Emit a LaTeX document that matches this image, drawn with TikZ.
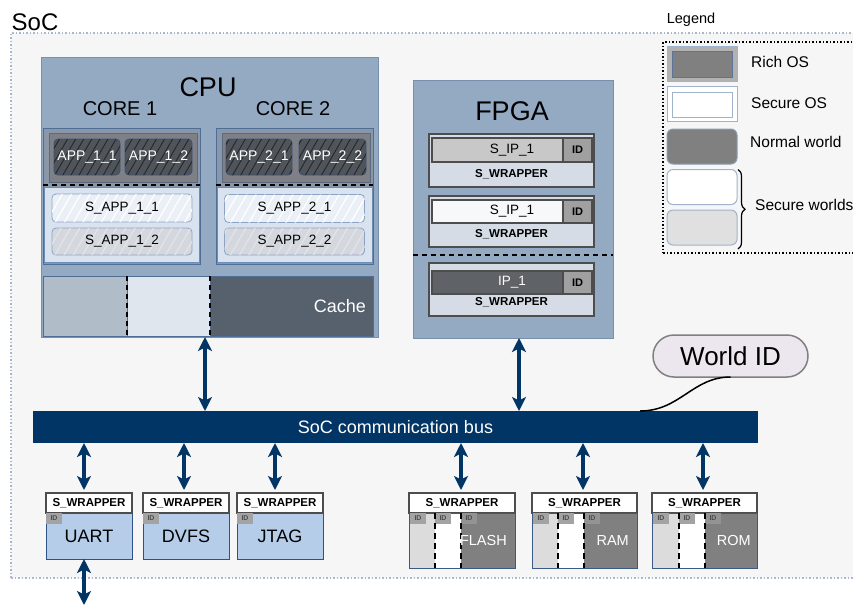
\documentclass[tikz,border=0pt]{standalone}
\usepackage{fontspec}
\setmainfont{Liberation Sans}
\usetikzlibrary{arrows.meta, patterns.meta, decorations.pathreplacing, positioning, calc}

\definecolor{socFill}{HTML}{F6F6F6}
\definecolor{socLine}{HTML}{A9B8CC}
\definecolor{cpuFill}{HTML}{94AAC2}
\definecolor{cpuLine}{HTML}{7890AD}
\definecolor{coreLine}{HTML}{4E6E96}
\definecolor{coreFill}{HTML}{8A97A8}
\definecolor{richFill}{HTML}{7E8086}
\definecolor{richLine}{HTML}{5A6A80}
\definecolor{appDark}{HTML}{50555C}
\definecolor{appLine}{HTML}{3C5479}
\definecolor{secFill}{HTML}{D9E3F0}
\definecolor{secLine}{HTML}{6E8DB5}
\definecolor{sappW}{HTML}{EBF0F7}
\definecolor{sappG}{HTML}{D4D7DD}
\definecolor{sappGL}{HTML}{E2E4E8}
\definecolor{sappLine}{HTML}{8CA3C4}
\definecolor{cacheLight}{HTML}{B0BCC7}
\definecolor{cacheWhite}{HTML}{DFE6EE}
\definecolor{cacheDark}{HTML}{57616E}
\definecolor{wrapFill}{HTML}{D5DCE6}
\definecolor{wrapLine}{HTML}{4D4D4D}
\definecolor{ipGray}{HTML}{C8C8C8}
\definecolor{ipWhite}{HTML}{F7F8FA}
\definecolor{ipDark}{HTML}{5F6266}
\definecolor{idGray}{HTML}{A0A0A0}
\definecolor{busBlue}{HTML}{013565}
\definecolor{periBlue}{HTML}{B6CDE9}
\definecolor{periLine}{HTML}{2E5283}
\definecolor{tagGray}{HTML}{A3A3A3}
\definecolor{memLight}{HTML}{DCDCDC}
\definecolor{memDark}{HTML}{808080}
\definecolor{memLine}{HTML}{3A5A85}
\definecolor{worldFill}{HTML}{ECE6EE}
\definecolor{worldLine}{HTML}{808080}
\definecolor{swLine}{HTML}{9FB3CC}
\definecolor{swInner}{HTML}{5A7599}

\tikzstyle{plainbox} = [rectangle, inner sep=0pt, outer sep=0pt]
\tikzstyle{socframe} = [plainbox, draw=socLine, fill=socFill, line width=1.5pt, dotted]
\tikzstyle{block} = [plainbox, draw=cpuLine, fill=cpuFill, line width=1pt]
\tikzstyle{bigtitle} = [inner sep=0pt, font=\fontsize{27}{30}\selectfont]
\tikzstyle{coretitle} = [inner sep=0pt, font=\fontsize{20}{22}\selectfont]
\tikzstyle{core} = [plainbox, draw=coreLine, fill=coreFill, line width=1pt]
\tikzstyle{rich} = [plainbox, draw=richLine, fill=richFill, line width=1pt]
\tikzstyle{app} = [plainbox, rounded corners=4pt, draw=appLine, fill=appDark, text=white, line width=0.8pt,
  font=\fontsize{14}{16}\selectfont, minimum height=36pt,
  postaction={pattern={Lines[angle=60, distance=7pt, line width=0.9pt]}, pattern color=black!85}]
\tikzstyle{secure} = [plainbox, draw=secLine, fill=secFill, line width=1pt]
\tikzstyle{sapp} = [plainbox, rounded corners=4pt, line width=0.8pt, draw=sappLine, minimum width=140pt,
  font=\fontsize{13.5}{16}\selectfont]
\tikzstyle{sappw} = [sapp, fill=sappW, postaction={pattern={Lines[angle=60, distance=8pt, line width=1.2pt]}, pattern color=white}]
\tikzstyle{sappg} = [sapp, fill=sappG, postaction={pattern={Lines[angle=60, distance=8pt, line width=1.2pt]}, pattern color=sappGL}]
\tikzstyle{worldsep} = [black, line width=2pt, dash pattern=on 5pt off 4pt]
\tikzstyle{cache} = [plainbox, draw=coreLine, line width=1pt, minimum height=60pt]
\tikzstyle{cachetext} = [inner sep=0pt, text=white, font=\fontsize{18}{20}\selectfont]
\tikzstyle{fpgawrap} = [plainbox, draw=wrapLine, fill=wrapFill, line width=1.5pt, minimum width=165pt]
\tikzstyle{ipbar} = [plainbox, draw=wrapLine, line width=1.2pt, minimum width=160pt, font=\fontsize{13.5}{16}\selectfont]
\tikzstyle{idcell} = [plainbox, draw=wrapLine, fill=idGray, line width=1.2pt, minimum width=29pt,
  font=\bfseries\fontsize{11}{13}\selectfont]
\tikzstyle{wraptext} = [inner sep=0pt, font=\bfseries\fontsize{11.5}{13}\selectfont]
\tikzstyle{bus} = [plainbox, fill=busBlue, text=white, font=\fontsize{18}{20}\selectfont]
\tikzstyle{busarrow} = [line width=3.5pt, draw=busBlue,
  {Stealth[length=14pt, width=14pt, inset=3.5pt]}-{Stealth[length=14pt, width=14pt, inset=3.5pt]}]
\tikzstyle{periwrap} = [plainbox, draw=wrapLine, fill=white, line width=2pt, minimum height=20pt,
  font=\bfseries\fontsize{11.5}{13}\selectfont]
\tikzstyle{peri} = [plainbox, draw=periLine, fill=periBlue, line width=1pt, minimum width=86pt, minimum height=46pt,
  font=\fontsize{18}{20}\selectfont]
\tikzstyle{idtag} = [plainbox, fill=tagGray, minimum width=16pt, minimum height=11pt,
  font=\bfseries\fontsize{7}{8}\selectfont, text=black!70]
\tikzstyle{memsec} = [plainbox, minimum height=55pt]
\tikzstyle{memline} = [draw=memLine, line width=1pt]
\tikzstyle{memsep} = [black, line width=2.2pt, dash pattern=on 6pt off 4pt]
\tikzstyle{memtext} = [inner sep=0pt, text=white, font=\fontsize{14.5}{16}\selectfont]
\tikzstyle{worldid} = [plainbox, rounded corners=21pt, draw=worldLine, fill=worldFill, line width=1.5pt,
  font=\fontsize{26}{28}\selectfont]
\tikzstyle{leg} = [inner sep=0pt, font=\fontsize{15.5}{18}\selectfont]
\tikzstyle{legendframe} = [plainbox, draw=black, line width=1.5pt, dotted]
\tikzstyle{swatch} = [plainbox, minimum width=70pt, minimum height=35pt, line width=1pt, draw=swLine]

\begin{document}
\begin{tikzpicture}[x=1pt, y=-1pt]
    \clip (0,0) rectangle (853,606);

    % SoC frame
    \node(soc) [socframe, minimum width=870pt, minimum height=545pt, anchor=north west] at (11,33) {};
    \node(soclabel) [inner sep=0pt, font=\fontsize{24}{26}\selectfont] at (35,22) {SoC};

    % CPU
    \node(cpu) [block, minimum width=337pt, minimum height=280pt] at (209.5,197) {};
    \node(cputitle) [bigtitle] at (208,87) {CPU};
    \node(core1title) [coretitle] at (120,109) {CORE 1};
    \node(core2title) [coretitle] at (293,109) {CORE 2};

    \node(core1) [core, minimum width=157pt, minimum height=136pt] at (121.5,196) {};
    \node(rich1) [rich, minimum width=148pt, minimum height=49pt] at (123,157.5) {};
    \node(app11) [app, minimum width=66pt] at (87,157) {APP\_1\_1};
    \node(app12) [app, minimum width=67pt] at (158.5,157) {APP\_1\_2};
    \node(sec1) [secure, minimum width=155pt, minimum height=75pt] at (121.5,225) {};
    \node(sapp11) [sappw, minimum height=28pt] at (122,208) {S\_APP\_1\_1};
    \node(sapp12) [sappg, minimum height=27pt] at (122,241.5) {S\_APP\_1\_2};
    \draw[worldsep] ([yshift=-3pt]core1.west |- rich1.south) -- ([yshift=-3pt]core1.east |- rich1.south);

    \node(core2) [core, minimum width=157pt, minimum height=136pt] at (294.5,196) {};
    \node(rich2) [rich, minimum width=148pt, minimum height=49pt] at (296,157.5) {};
    \node(app21) [app, minimum width=66pt] at (259,157) {APP\_2\_1};
    \node(app22) [app, minimum width=67pt] at (332.5,157) {APP\_2\_2};
    \node(sec2) [secure, minimum width=155pt, minimum height=75pt] at (294.5,225) {};
    \node(sapp21) [sappw, minimum height=28pt] at (294.5,208.5) {S\_APP\_2\_1};
    \node(sapp22) [sappg, minimum height=27pt] at (294.5,241.5) {S\_APP\_2\_2};
    \draw[worldsep] ([yshift=-3pt]core2.west |- rich2.south) -- ([yshift=-3pt]core2.east |- rich2.south);

    % cache
    \node(cacheA) [cache, fill=cacheLight, minimum width=84pt, anchor=north west] at (43,276) {};
    \node(cacheB) [cache, fill=cacheWhite, minimum width=83pt, right=0pt of cacheA] {};
    \node(cacheC) [cache, fill=cacheDark, minimum width=163pt, right=0pt of cacheB] {};
    \node(cachelabel) [cachetext, left=7pt of cacheC.east] {Cache};
    \draw[worldsep] (cacheA.north east) -- (cacheA.south east);
    \draw[worldsep] (cacheB.north east) -- (cacheB.south east);

    % FPGA
    \node(fpga) [block, minimum width=200pt, minimum height=258pt] at (513,209) {};
    \node(fpgatitle) [bigtitle] at (512,111) {FPGA};

    \node(wrap1) [fpgawrap, minimum height=53pt] at (511.5,160.5) {};
    \node(ip1) [ipbar, fill=ipGray, minimum height=24pt] at (512,150) {S\_IP\_1};
    \node(id1) [idcell, minimum height=24pt, anchor=east] at (ip1.east) {ID};
    \node(sw1) [wraptext] at (511.5,174) {S\_WRAPPER};

    \node(wrap2) [fpgawrap, minimum height=51pt] at (511.5,221.5) {};
    \node(ip2) [ipbar, fill=ipWhite, minimum height=23pt] at (512,211.5) {S\_IP\_1};
    \node(id2) [idcell, minimum height=23pt, anchor=east] at (ip2.east) {ID};
    \node(sw2) [wraptext] at (511.5,234) {S\_WRAPPER};

    \node(wrap3) [fpgawrap, minimum height=53pt] at (511.5,289.5) {};
    \node(ip3) [ipbar, fill=ipDark, text=white, minimum height=23pt] at (512,282.5) {IP\_1};
    \node(id3) [idcell, minimum height=23pt, anchor=east] at (ip3.east) {ID};
    \node(sw3) [wraptext] at (511.5,302) {S\_WRAPPER};

    \coordinate(fpgasplit) at ($(wrap2.south)!.5!(wrap3.north)$);
    \draw[worldsep] (fpga.west |- fpgasplit) -- (fpga.east |- fpgasplit);

    % bus and world id
    \node(bus) [bus, minimum width=725pt, minimum height=32pt] at (395.5,427) {SoC communication bus};
    \node(worldid) [worldid, minimum width=155pt, minimum height=42pt] at (730.5,356) {World ID};
    \coordinate(idtap) at (640,411);
    \draw[line width=1.5pt] (worldid.south) .. controls +(-38,0) and +(40,0) .. (idtap);

    \draw[busarrow] ([xshift=-4.5pt]cpu.south) -- ([xshift=-4.5pt]cpu.south |- bus.north);
    \draw[busarrow] ([xshift=6pt]fpga.south) -- ([xshift=6pt]fpga.south |- bus.north);

    % peripherals
    \node(uartw) [periwrap, minimum width=86pt] at (89,503) {S\_WRAPPER};
    \node(uart) [peri, below=0pt of uartw] {UART};
    \node(uartid) [idtag, anchor=north west] at (uart.north west) {ID};

    \node(dvfsw) [periwrap, minimum width=86pt] at (186,503) {S\_WRAPPER};
    \node(dvfs) [peri, below=0pt of dvfsw] {DVFS};
    \node(dvfsid) [idtag, anchor=north west] at (dvfs.north west) {ID};

    \node(jtagw) [periwrap, minimum width=86pt] at (280,503) {S\_WRAPPER};
    \node(jtag) [peri, below=0pt of jtagw] {JTAG};
    \node(jtagid) [idtag, anchor=north west] at (jtag.north west) {ID};

    \coordinate(uartout) at (84,605);
    \draw[busarrow] ([xshift=-5pt]uartw.north |- bus.south) -- ([xshift=-5pt, yshift=3pt]uartw.north);
    \draw[busarrow] ([xshift=-2pt]dvfsw.north |- bus.south) -- ([xshift=-2pt, yshift=3pt]dvfsw.north);
    \draw[busarrow] ([xshift=-5pt]jtagw.north |- bus.south) -- ([xshift=-5pt, yshift=3pt]jtagw.north);
    \draw[busarrow] (uartout |- uart.south) -- (uartout);

    % memories
    \node(flashw) [periwrap, minimum width=106pt] at (462,503) {S\_WRAPPER};
    \node(flashA) [memsec, fill=memLight, minimum width=26pt, anchor=north west] at (flashw.south west) {};
    \node(flashB) [memsec, fill=white, minimum width=26pt, right=0pt of flashA] {};
    \node(flashC) [memsec, fill=memDark, minimum width=54pt, right=0pt of flashB] {};
    \draw[memline] (flashA.north west) rectangle (flashC.south east);
    \node(flashidA) [idtag, anchor=north west] at ([xshift=1pt]flashA.north west) {ID};
    \node(flashidB) [idtag, anchor=north west] at (flashB.north west) {ID};
    \node(flashidC) [idtag, fill=gray!85, anchor=north west] at (flashC.north west) {ID};
    \draw[memsep] (flashA.north east) -- (flashA.south east);
    \draw[memsep] (flashB.north east) -- (flashB.south east);
    \node(flashlabel) [memtext, left=8pt of flashC.east] {FLASH};

    \node(ramw) [periwrap, minimum width=105pt] at (584.5,503) {S\_WRAPPER};
    \node(ramA) [memsec, fill=memLight, minimum width=26pt, anchor=north west] at (ramw.south west) {};
    \node(ramB) [memsec, fill=white, minimum width=26pt, right=0pt of ramA] {};
    \node(ramC) [memsec, fill=memDark, minimum width=53pt, right=0pt of ramB] {};
    \draw[memline] (ramA.north west) rectangle (ramC.south east);
    \node(ramidA) [idtag, anchor=north west] at ([xshift=1pt]ramA.north west) {ID};
    \node(ramidB) [idtag, anchor=north west] at (ramB.north west) {ID};
    \node(ramidC) [idtag, fill=gray!85, anchor=north west] at (ramC.north west) {ID};
    \draw[memsep] (ramA.north east) -- (ramA.south east);
    \draw[memsep] (ramB.north east) -- (ramB.south east);
    \node(ramlabel) [memtext, left=8pt of ramC.east] {RAM};

    \node(romw) [periwrap, minimum width=105pt] at (704.5,503) {S\_WRAPPER};
    \node(romA) [memsec, fill=memLight, minimum width=27pt, anchor=north west] at (romw.south west) {};
    \node(romB) [memsec, fill=white, minimum width=26pt, right=0pt of romA] {};
    \node(romC) [memsec, fill=memDark, minimum width=52pt, right=0pt of romB] {};
    \draw[memline] (romA.north west) rectangle (romC.south east);
    \node(romidA) [idtag, anchor=north west] at ([xshift=1pt]romA.north west) {ID};
    \node(romidB) [idtag, anchor=north west] at (romB.north west) {ID};
    \node(romidC) [idtag, fill=gray!85, anchor=north west] at (romC.north west) {ID};
    \draw[memsep] (romA.north east) -- (romA.south east);
    \draw[memsep] (romB.north east) -- (romB.south east);
    \node(romlabel) [memtext, left=6pt of romC.east] {ROM};

    \draw[busarrow] ([xshift=-1pt]flashw.north |- bus.south) -- ([xshift=-1pt, yshift=3pt]flashw.north);
    \draw[busarrow] ([xshift=-1.5pt]ramw.north |- bus.south) -- ([xshift=-1.5pt, yshift=3pt]ramw.north);
    \draw[busarrow] ([xshift=-1.5pt]romw.north |- bus.south) -- ([xshift=-1.5pt, yshift=3pt]romw.north);

    % legend
    \node(legendtitle) [leg, font=\fontsize{14.5}{17}\selectfont] at (691,20) {Legend};
    \node(legend) [legendframe, minimum width=220pt, minimum height=211pt, anchor=north west] at (663,42) {};

    \node(richsw) [swatch, fill=gray!60] at (702,63.5) {};
    \node(richin) [plainbox, draw=swInner, fill=memDark, line width=1pt, minimum width=60pt, minimum height=26pt] at (702,64) {};
    \node(richlabel) [leg, anchor=west] at (751,62) {Rich OS};

    \node(securesw) [swatch, fill=white] at (702,104) {};
    \node(securein) [plainbox, draw=swLine, fill=white, line width=1pt, minimum width=60pt, minimum height=25pt] at (702,104.5) {};
    \node(securelabel) [leg, anchor=west] at (751,103) {Secure OS};

    \node(normalsw) [swatch, rounded corners=6pt, fill=memDark, draw=swInner!70] at (702,146.5) {};
    \node(normallabel) [leg, anchor=west] at (750,142) {Normal world};

    \node(worldw) [swatch, rounded corners=6pt, fill=white] at (702,187) {};
    \node(worldg) [swatch, rounded corners=6pt, fill=black!12] at (702,227.5) {};
    \draw[line width=1.2pt, decorate, decoration={brace, amplitude=7pt}] ([xshift=1pt]worldw.north east) -- ([xshift=1pt, yshift=-4pt]worldg.south east);
    \node(securewlabel) [leg, anchor=west] at (755,205) {Secure worlds};
\end{tikzpicture}
\end{document}
